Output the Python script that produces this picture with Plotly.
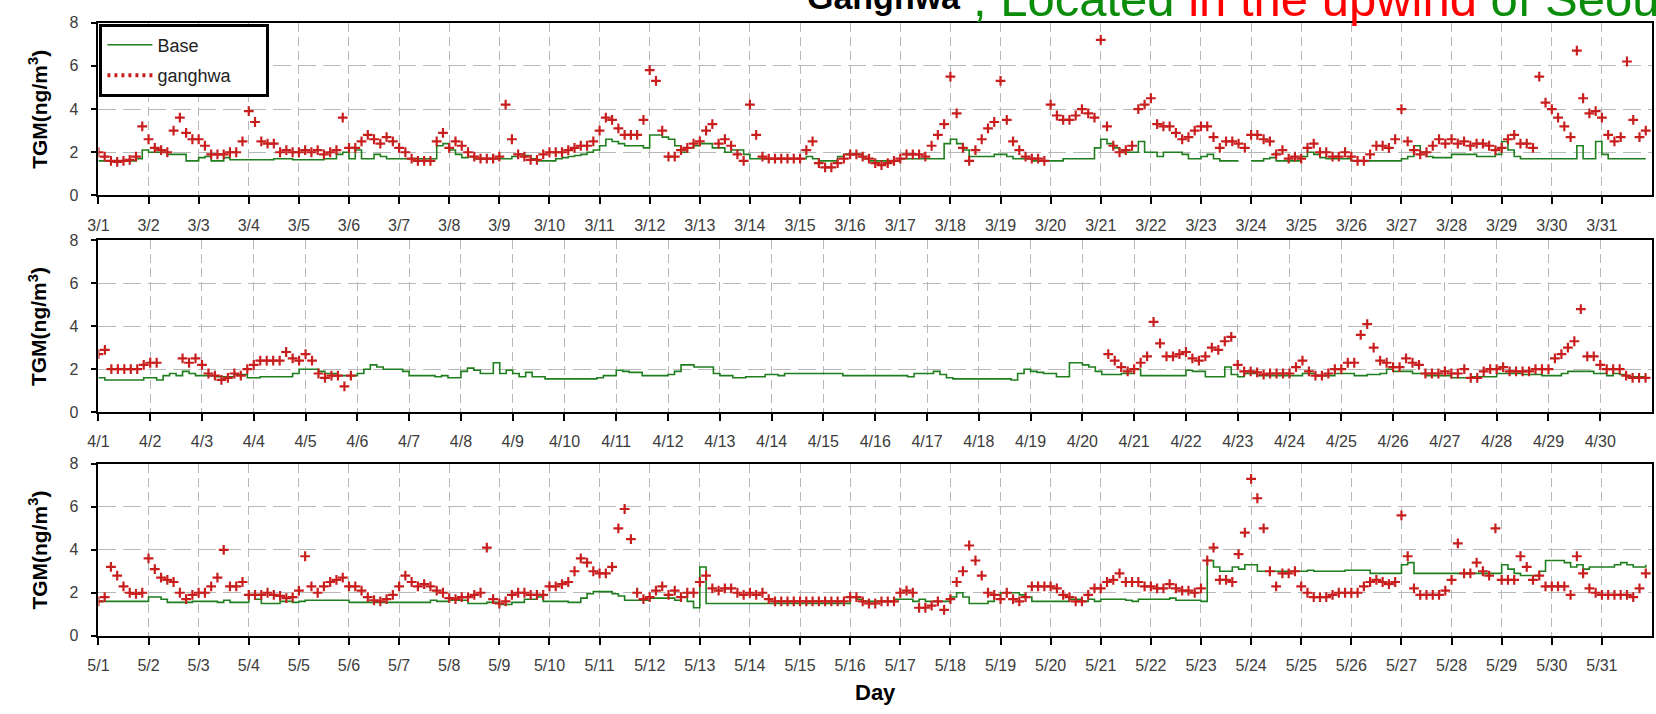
import plotly.graph_objects as go

# ---------------- data (3-hourly readings, 8 per day) ----------------
mar_base = [
    1.6,1.6,1.6,1.6,1.6,1.6,1.7,2.1,   # 3/1
    2.0,2.0,2.0,1.9,1.9,1.9,1.6,1.6,   # 3/2
    1.75,1.8,1.6,1.6,1.75,1.65,1.65,1.65,
    1.65,1.65,1.65,1.65,1.7,1.7,1.7,1.65,
    1.65,1.65,1.65,1.65,1.7,1.7,1.9,2.0,
    1.7,2.1,1.7,1.7,1.9,1.8,1.7,1.7,
    1.7,1.7,1.7,1.7,1.7,1.7,2.3,2.4,
    2.1,1.9,1.75,1.8,1.7,1.7,1.7,1.7,
    1.7,1.7,1.8,1.9,1.85,1.7,1.6,1.6,
    1.6,1.7,1.75,1.8,1.85,1.9,2.0,2.1,  # 3/10
    2.3,2.6,2.5,2.4,2.3,2.3,2.3,2.2,
    2.8,2.8,2.7,2.6,2.3,2.0,2.2,2.3,
    2.4,2.4,2.2,2.2,2.0,2.1,2.1,1.9,
    1.7,1.7,1.7,1.7,1.7,1.7,1.7,1.7,
    1.7,1.8,1.7,1.6,1.6,1.6,1.8,1.9,
    1.9,1.9,1.7,1.6,1.6,1.6,1.6,1.6,
    1.7,1.7,1.7,1.7,1.7,1.7,1.7,2.4,
    2.6,2.4,2.1,1.8,1.8,1.8,1.8,1.9,
    1.9,1.8,1.7,1.7,1.7,1.6,1.6,1.6,
    1.6,1.6,1.7,1.7,1.7,1.7,1.7,2.2,    # 3/20
    2.6,2.4,2.2,2.0,2.0,2.0,2.5,2.0,
    2.0,1.8,2.0,2.0,2.0,1.9,1.7,1.7,
    1.8,1.9,1.7,1.6,1.6,1.6,1.6,None,
    1.6,1.6,1.7,1.75,1.6,1.6,1.6,1.6,
    1.8,2.0,1.9,1.75,1.7,1.7,1.7,1.7,
    1.6,1.6,1.6,1.6,1.6,1.6,1.6,1.6,
    1.7,1.8,2.3,2.0,1.8,1.75,1.75,1.75,
    1.9,1.9,1.9,1.9,1.8,1.8,1.8,1.9,
    2.5,2.1,1.8,1.7,1.7,1.7,1.7,1.7,
    1.7,1.7,1.7,1.7,2.3,1.7,1.7,2.5,
    1.9,1.7,1.7,1.7,1.7,1.7,1.7,1.7,    # 3/31
]
mar_ganghwa = [
    2.0,1.8,1.6,1.55,1.6,1.65,1.8,3.2,   # 3/1
    2.6,2.2,2.1,2.0,3.0,3.6,2.9,2.6,
    2.6,2.3,1.9,1.9,1.9,2.0,2.0,2.5,
    3.9,3.4,2.5,2.4,2.4,2.0,2.1,2.0,
    2.0,2.1,2.0,2.1,1.9,2.0,2.1,3.6,
    2.2,2.2,2.5,2.8,2.6,2.4,2.7,2.5,
    2.2,2.0,1.7,1.6,1.6,1.6,2.5,2.9,
    2.2,2.5,2.3,2.0,1.8,1.7,1.7,1.7,
    1.8,4.2,2.6,1.9,1.8,1.65,1.65,1.9,
    2.0,2.0,2.0,2.1,2.2,2.3,2.3,2.5,    # 3/10
    3.0,3.6,3.5,3.1,2.8,2.8,2.8,3.5,
    5.8,5.3,3.0,1.8,1.8,2.1,2.2,2.4,
    2.5,3.0,3.3,2.4,2.6,2.3,1.9,1.6,
    4.2,2.8,1.8,1.7,1.7,1.7,1.7,1.7,
    1.7,2.1,2.5,1.5,1.3,1.3,1.5,1.7,
    1.9,1.9,1.8,1.7,1.5,1.4,1.5,1.6,
    1.7,1.9,1.9,1.9,1.8,2.3,2.8,3.3,
    5.5,3.8,2.2,1.6,2.1,2.6,3.1,3.4,
    5.3,3.5,2.5,2.1,1.8,1.7,1.7,1.6,
    4.2,3.7,3.5,3.5,3.7,4.0,3.8,3.6,    # 3/20
    7.2,3.2,2.3,2.0,2.1,2.3,4.0,4.2,
    4.5,3.3,3.2,3.2,2.9,2.6,2.7,3.0,
    3.2,3.2,2.7,2.2,2.5,2.5,2.4,2.2,
    2.8,2.8,2.6,2.5,1.9,2.1,1.7,1.8,
    1.7,2.2,2.4,2.0,2.0,1.8,1.8,2.0,
    1.8,1.6,1.6,1.9,2.3,2.3,2.2,2.6,
    4.0,2.5,2.1,1.9,2.0,2.3,2.6,2.4,
    2.6,2.4,2.5,2.3,2.4,2.4,2.3,2.1,
    2.2,2.6,2.8,2.4,2.4,2.2,5.5,4.3,
    4.0,3.6,3.2,2.7,6.7,4.5,3.8,3.9,
    3.6,2.8,2.5,2.7,6.2,3.5,2.7,3.0,    # 3/31
]

apr_base = [
    1.6,1.5,1.5,1.5,1.5,1.5,1.5,1.6,    # 4/1
    1.6,1.5,1.7,1.8,1.7,1.9,1.8,1.7,
    1.7,1.7,1.65,1.65,1.65,1.75,1.75,1.6,
    1.6,1.65,1.65,1.65,1.65,1.65,1.8,2.0,
    2.0,2.0,1.9,1.8,1.8,1.7,1.7,1.7,
    1.8,2.0,2.2,2.1,2.0,2.0,2.0,1.9,
    1.7,1.7,1.7,1.7,1.65,1.7,1.6,1.6,
    1.9,2.05,1.95,1.8,1.8,2.3,1.8,1.95,
    1.8,1.65,1.85,1.65,1.65,1.55,1.55,1.55,
    1.55,1.55,1.55,1.55,1.55,1.6,1.7,1.7,  # 4/10
    1.95,1.9,1.85,1.85,1.7,1.7,1.7,1.7,
    1.75,1.9,2.2,2.2,2.1,2.1,2.1,1.8,
    1.7,1.7,1.6,1.6,1.65,1.65,1.65,1.75,
    1.75,1.7,1.8,1.8,1.8,1.8,1.8,1.8,
    1.8,1.8,1.8,1.7,1.7,1.7,1.7,1.7,
    1.7,1.7,1.7,1.7,1.7,1.65,1.8,1.8,
    1.8,1.9,1.75,1.6,1.55,1.55,1.55,1.55,
    1.55,1.55,1.55,1.55,1.55,1.5,1.8,2.0,
    1.9,1.85,1.8,1.8,1.65,1.65,2.3,2.3,
    2.2,2.1,1.9,1.75,1.75,1.75,1.8,1.8,    # 4/20
    2.0,1.7,1.7,1.7,1.7,1.7,1.7,1.7,
    1.95,1.9,1.9,1.65,1.65,1.65,2.1,1.75,
    1.65,1.8,1.8,1.7,1.7,1.7,1.7,1.7,
    1.7,1.7,1.8,1.8,1.7,1.7,1.7,1.8,
    1.8,1.8,1.7,1.7,1.75,1.75,1.8,2.0,
    1.9,1.9,1.9,1.8,1.8,1.7,1.7,1.7,
    1.7,1.6,1.6,1.6,1.65,1.65,1.65,1.65,
    1.8,1.8,1.8,1.8,1.75,1.75,1.75,1.7,
    1.7,1.7,1.8,1.9,1.9,1.9,1.9,1.8,
    1.8,1.7,1.8,1.75,1.65,1.65,1.65,1.65,  # 4/30
]
apr_ganghwa = [
    2.7,2.9,2.0,2.0,2.0,2.0,2.0,2.2,    # 4/1
    2.3,2.3,None,None,None,2.5,2.3,2.5,
    2.2,1.8,1.7,1.5,1.6,1.8,1.7,2.0,
    2.2,2.4,2.4,2.4,2.4,2.8,2.5,2.4,
    2.7,2.4,1.8,1.6,1.7,1.7,1.2,1.7,
    None,None,None,None,None,None,None,None,
    None,None,None,None,None,None,None,None,
    None,None,None,None,None,None,None,None,
    None,None,None,None,None,None,None,None,
    None,None,None,None,None,None,None,None,  # 4/10
    None,None,None,None,None,None,None,None,
    None,None,None,None,None,None,None,None,
    None,None,None,None,None,None,None,None,
    None,None,None,None,None,None,None,None,
    None,None,None,None,None,None,None,None,
    None,None,None,None,None,None,None,None,
    None,None,None,None,None,None,None,None,
    None,None,None,None,None,None,None,None,
    None,None,None,None,None,None,None,None,
    None,None,None,None,2.7,2.4,2.1,1.9,      # 4/20
    2.0,2.3,2.6,4.2,3.2,2.6,2.6,2.7,
    2.8,2.5,2.4,2.6,3.0,2.9,3.3,3.5,
    2.2,1.9,1.9,1.85,1.75,1.8,1.8,1.8,
    1.8,2.1,2.4,1.9,1.7,1.7,1.8,2.0,
    2.0,2.3,2.3,3.6,4.1,3.0,2.4,2.3,
    2.1,2.1,2.5,2.3,2.2,1.8,1.8,1.8,
    1.9,1.8,1.8,2.0,1.6,1.6,1.9,2.0,
    2.0,2.1,1.9,1.9,1.9,1.9,2.0,2.0,
    2.0,2.5,2.7,3.0,3.3,4.8,2.6,2.6,
    2.2,2.0,2.0,2.0,1.7,1.6,1.6,1.6,      # 4/30
]

may_base = [
    1.6,1.6,1.6,1.6,1.6,1.6,1.6,1.6,    # 5/1
    1.8,1.8,1.7,1.55,1.55,1.55,1.55,1.6,
    1.6,1.6,1.6,1.55,1.65,1.55,1.55,1.55,
    1.9,1.7,1.5,1.5,1.5,1.6,1.6,1.55,
    1.6,1.65,1.65,1.65,1.65,1.65,1.65,1.65,
    1.55,1.55,1.55,1.55,1.55,1.55,1.55,1.55,
    1.55,1.55,1.55,1.55,1.55,1.65,1.6,1.6,
    1.65,1.65,1.65,1.5,1.5,1.5,1.55,1.55,
    1.45,1.45,1.55,1.55,1.7,1.7,1.8,1.6,
    1.6,1.6,1.6,1.55,1.55,1.75,1.95,2.05,  # 5/10
    2.05,2.05,1.95,1.85,1.65,1.65,1.65,1.65,
    1.75,1.75,1.75,1.75,1.65,1.8,1.6,1.3,
    3.2,1.5,1.5,1.5,1.5,1.5,1.5,1.5,
    1.5,1.5,1.5,1.5,1.5,1.5,1.5,1.5,
    1.5,1.5,1.5,1.5,1.5,1.5,1.5,1.5,
    1.8,1.7,1.6,1.6,1.6,1.6,1.6,1.7,
    1.7,1.7,1.6,1.7,1.6,1.6,1.6,1.6,
    1.8,2.0,1.8,1.5,1.5,1.5,1.6,1.9,
    2.0,2.0,2.0,1.9,1.8,1.6,1.6,1.6,
    1.6,1.6,1.6,1.7,1.7,1.6,1.7,1.6,      # 5/20
    1.7,1.7,1.7,1.7,1.65,1.6,1.7,1.7,
    1.7,1.7,1.7,1.75,1.65,1.65,1.65,1.65,
    1.6,3.5,3.2,3.0,3.0,3.2,3.1,3.3,
    3.3,3.0,3.0,3.0,3.0,3.0,3.0,3.0,
    3.0,3.05,3.0,3.0,3.0,3.0,3.0,3.05,
    3.05,3.05,3.05,2.9,2.9,2.9,2.9,2.9,
    3.3,3.4,2.9,2.9,2.9,2.9,2.9,2.9,
    2.9,2.9,2.9,2.9,2.9,2.9,2.9,2.9,
    3.3,3.1,2.9,2.8,2.8,2.8,3.0,3.5,
    3.5,3.5,3.4,3.2,3.3,3.1,3.2,3.2,
    3.2,3.2,3.3,3.4,3.3,3.2,3.2,3.3,      # 5/31
]
may_ganghwa = [
    1.6,1.8,3.2,2.8,2.3,2.0,1.95,2.0,   # 5/1
    3.6,3.1,2.7,2.6,2.5,2.0,1.7,1.9,
    2.0,2.0,2.3,2.7,4.0,2.3,2.3,2.5,
    1.9,1.9,1.9,2.0,1.9,1.85,1.75,1.8,
    2.1,3.7,2.3,2.0,2.3,2.5,2.6,2.7,
    2.3,2.3,2.1,1.8,1.65,1.6,1.7,1.9,
    2.3,2.8,2.5,2.3,2.4,2.3,2.1,2.0,
    1.75,1.7,1.8,1.8,1.9,2.0,4.1,1.7,
    1.5,1.6,1.9,2.0,2.0,1.9,1.9,1.9,
    2.3,2.3,2.4,2.5,3.0,3.6,3.4,3.0,    # 5/10
    2.9,2.9,3.2,5.0,5.9,4.5,2.0,1.7,
    1.8,2.1,2.3,1.9,2.1,1.8,2.0,2.0,
    2.5,2.8,2.2,2.1,2.2,2.2,2.0,1.9,
    2.0,1.9,2.0,1.7,1.6,1.6,1.6,1.6,
    1.6,1.6,1.6,1.6,1.6,1.6,1.6,1.6,
    1.8,1.8,1.6,1.5,1.5,1.6,1.6,1.6,
    2.0,2.1,2.0,1.3,1.3,1.4,1.6,1.2,
    1.7,2.5,3.0,4.2,3.5,2.8,2.0,1.9,
    1.7,2.0,1.7,1.6,1.8,2.3,2.3,2.3,
    2.3,2.2,1.9,1.8,1.6,1.6,1.9,2.2,    # 5/20
    2.2,2.5,2.6,2.9,2.5,2.5,2.5,2.3,
    2.3,2.2,2.2,2.4,2.2,2.1,2.1,2.0,
    2.2,3.5,4.1,2.6,2.6,2.5,3.8,4.8,
    7.3,6.4,5.0,3.0,2.3,2.9,2.9,3.0,
    2.3,2.0,1.8,1.8,1.8,1.9,2.0,2.0,
    2.0,2.0,2.3,2.5,2.6,2.5,2.4,2.5,
    5.6,3.7,2.2,1.9,1.9,1.9,1.9,2.1,
    2.6,4.3,2.9,2.9,3.4,3.0,2.8,5.0,
    2.6,2.6,2.6,3.7,3.2,2.6,2.8,2.3,
    2.3,2.3,2.3,1.9,3.7,2.9,2.2,2.0,
    1.9,1.9,1.9,1.9,1.9,1.8,2.2,2.9,    # 5/31
]

mar_ticks = ["3/%d" % d for d in range(1, 32)]
apr_ticks = ["4/%d" % d for d in range(1, 31)]
may_ticks = ["5/%d" % d for d in range(1, 32)]
y_ticks = [0, 2, 4, 6, 8]

# ---------------- styling ----------------
W, H = 1656, 714
FONT = "Liberation Sans, Arial, sans-serif"
GREEN = "#1f7f1f"
RED = "#c81e1e"
GRID = "#b8b8b8"

x_dom = [88 / W, 1652 / W]
panels_px = [(15, 192), (238, 414), (467, 643)]   # top, bottom in pixels
y_doms = [[1 - b / H, 1 - t / H] for t, b in panels_px]

months = [
    (mar_base, mar_ganghwa, mar_ticks),
    (apr_base, apr_ganghwa, apr_ticks),
    (may_base, may_ganghwa, may_ticks),
]

fig = go.Figure()
for i, (base, gh, ticks) in enumerate(months):
    n = i + 1
    xa = "x" if n == 1 else "x%d" % n
    ya = "y" if n == 1 else "y%d" % n
    xb = [k / 8 for k in range(len(base))]
    xg = [k / 8 for k in range(len(gh))]
    fig.add_trace(go.Scatter(
        x=xb, y=base, mode="lines", name="Base",
        line=dict(color=GREEN, width=1.6, shape="hv"),
        connectgaps=False, showlegend=(n == 1), legendgroup="base",
        xaxis=xa, yaxis=ya))
    fig.add_trace(go.Scatter(
        x=xg, y=gh, mode="markers", name="ganghwa",
        marker=dict(symbol="cross-thin", size=7, color=RED,
                    line=dict(width=2.2, color=RED)),
        showlegend=False, xaxis=xa, yaxis=ya))
    ndays = len(ticks)
    axis_common = dict(
        showline=True, linecolor="black", linewidth=1.8, mirror=True,
        ticks="outside", tickcolor="black", tickwidth=1.5,
        showgrid=True, gridcolor=GRID, gridwidth=1, zeroline=False,
        tickfont=dict(family=FONT, size=16, color="#3c3c3c"),
    )
    fig.layout["xaxis" if n == 1 else "xaxis%d" % n] = dict(
        axis_common, domain=x_dom, range=[0, ndays],
        tickvals=list(range(ndays)), ticktext=ticks, ticklen=7,
        griddash="9px,5px", anchor=ya, ticklabelstandoff=7)
    fig.layout["yaxis" if n == 1 else "yaxis%d" % n] = dict(
        axis_common, domain=y_doms[i], range=[0, 8],
        tickvals=y_ticks, ticktext=[str(v) for v in y_ticks], ticklen=6,
        griddash="18px,7px", anchor=xa, ticklabelstandoff=9)

# legend sample for the cross series
fig.add_trace(go.Scatter(
    x=[None], y=[None], mode="lines",
    name="ganghwa&nbsp;&nbsp;&nbsp;&nbsp;&nbsp;&nbsp;",
    line=dict(color=RED, width=4, dash="3px,4px"), legendgroup="gh",
    xaxis="x", yaxis="y"))

annotations = []
for t, b in panels_px:
    annotations.append(dict(
        text="<b>TGM(ng/m<sup>3</sup>)</b>", textangle=-90,
        x=27 / W, y=1 - (t + b) / 2 / H, xanchor="center", yanchor="middle",
        xref="paper", yref="paper",
        showarrow=False, font=dict(family=FONT, size=21, color="black")))
annotations.append(dict(
    text="<b>Day</b>", x=(88 + 1652) / 2 / W, y=1 - 701 / H,
    xanchor="center", yanchor="middle",
    xref="paper", yref="paper", showarrow=False,
    font=dict(family=FONT, size=22, color="black")))
annotations.append(dict(
    text="<b>Ganghwa</b>", x=958 / W, y=1 + 11 / H, xanchor="right",
    yanchor="middle", xref="paper", yref="paper", showarrow=False,
    font=dict(family=FONT, size=34, color="black")))
annotations.append(dict(
    text="<span style='color:#0b8c0b'>, Located </span>"
         "<span style='color:#ff0000'>in the upwind</span>"
         "<span style='color:#0b8c0b'> of Seoul</span>",
    x=966 / W, y=1 + 9 / H, xanchor="left", yanchor="middle",
    xref="paper", yref="paper", showarrow=False,
    font=dict(family=FONT, size=49)))

fig.update_layout(
    width=W, height=H,
    margin=dict(l=0, r=0, t=0, b=0),
    paper_bgcolor="white", plot_bgcolor="white",
    font=dict(family=FONT),
    showlegend=True,
    legend=dict(
        x=89 / W, y=1 - 16 / H, xanchor="left", yanchor="top",
        bgcolor="white", bordercolor="black", borderwidth=3,
        font=dict(family=FONT, size=18, color="#222"),
        itemwidth=45, tracegroupgap=4),
    annotations=annotations,
)

fig.write_html("out.html")
